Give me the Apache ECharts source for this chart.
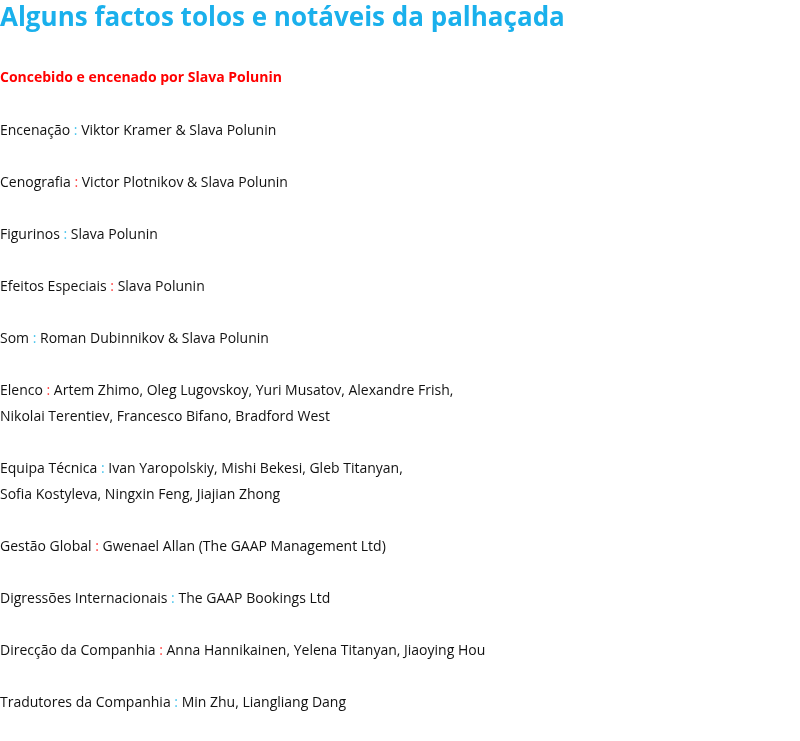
<!DOCTYPE html>
<html><head><meta charset="utf-8">
<script src="https://cdn.jsdelivr.net/npm/echarts@6/dist/echarts.min.js"></script>
<style>html,body{margin:0;padding:0;background:#fff}#c{width:800px;height:741px}</style>
</head><body><div id="c"></div>
<script>
const mainTitle = 'Alguns factos tolos e notáveis da palhaçada';
const subTitle = 'Concebido e encenado por Slava Polunin';
const roles = ['Encenação','Cenografia','Figurinos','Efeitos Especiais','Som','Elenco','Equipa Técnica','Gestão Global','Digressões Internacionais','Direcção da Companhia','Tradutores da Companhia'];
const names = [
 ['Viktor Kramer & Slava Polunin'],
 ['Victor Plotnikov & Slava Polunin'],
 ['Slava Polunin'],
 ['Slava Polunin'],
 ['Roman Dubinnikov & Slava Polunin'],
 ['Artem Zhimo, Oleg Lugovskoy, Yuri Musatov, Alexandre Frish,','Nikolai Terentiev, Francesco Bifano, Bradford West'],
 ['Ivan Yaropolskiy, Mishi Bekesi, Gleb Titanyan,','Sofia Kostyleva, Ningxin Feng, Jiajian Zhong'],
 ['Gwenael Allan (The GAAP Management Ltd)'],
 ['The GAAP Bookings Ltd'],
 ['Anna Hannikainen, Yelena Titanyan, Jiaoying Hou'],
 ['Min Zhu, Liangliang Dang']
];
const lines = [];
roles.forEach((r,i)=>{
  const sep = i%2===0 ? '{c|:}' : '{r|:}';
  lines.push('{t|'+r+' }'+sep+'{t| '+names[i][0]+'}');
  for(let k=1;k<names[i].length;k++) lines.push('{t|'+names[i][k]+'}');
  if(i<roles.length-1) lines.push('{t| }');
});
const F = '"Open Sans", "Noto Sans", sans-serif';
const base = {fontFamily:F,fontSize:14,lineHeight:26,fontWeight:'normal'};
const chart = echarts.init(document.getElementById('c'));
chart.setOption({
  backgroundColor:'#fff',
  title:[
    {text:mainTitle,left:0,top:6,padding:0,textStyle:{fontFamily:F,fontSize:26,fontWeight:'bold',color:'#1ab0ec'}},
    {text:subTitle,left:0,top:71,padding:0,textStyle:{fontFamily:F,fontSize:14,fontWeight:'bold',color:'#ff0000'}},
    {text:lines.join('\n'),left:0,top:118,padding:0,textStyle:Object.assign({},base,{
      rich:{t:Object.assign({color:'#111'},base),
            c:Object.assign({},base,{color:'#4cc6ee'}),
            r:Object.assign({},base,{color:'#f44'})}})}
  ]
});
</script></body></html>
